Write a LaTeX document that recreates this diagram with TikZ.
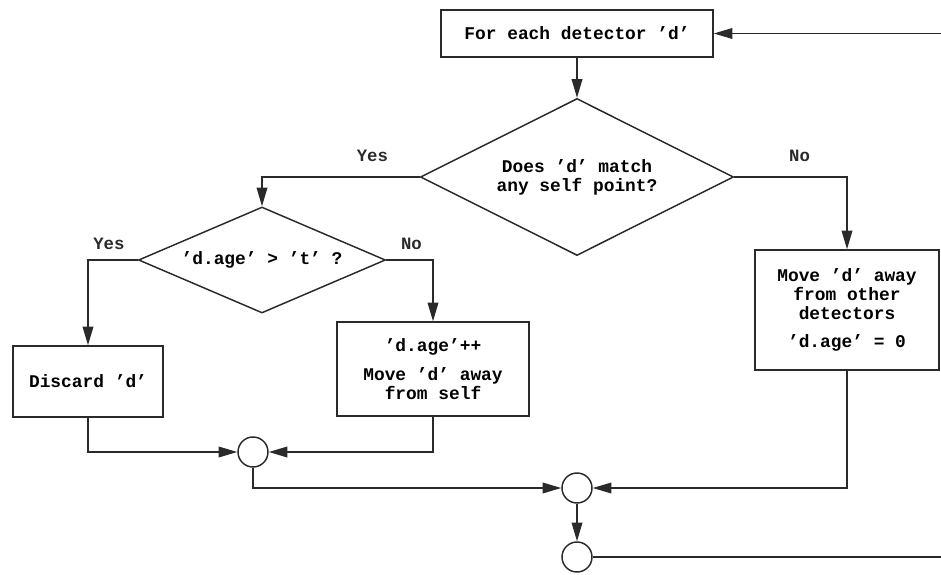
\documentclass[tikz,border=0pt]{standalone}
\usepackage{fontspec}
\setmainfont{Liberation Mono}[Ligatures=TeX]
\usepackage{tikz}
\usetikzlibrary{arrows.meta,positioning,calc,shapes.geometric}
\definecolor{fcline}{HTML}{2A2A2A}
\tikzset{
  box/.style={draw=fcline, line width=1.1pt, align=center, inner sep=2pt},
  test/.style={diamond, draw=fcline, line width=1.1pt, align=center, inner sep=0pt},
  merge/.style={circle, draw=fcline, line width=1.1pt, minimum size=22.5pt, inner sep=0pt},
  arr/.style={-{Triangle[length=14pt,width=8pt]}, line width=1.1pt, fcline},
  lbl/.style={font=\bfseries\fontsize{13}{14}\selectfont, inner sep=2pt},
}

\begin{document}
\begin{tikzpicture}[x=0.75pt, y=-0.75pt, font=\bfseries\fontsize{13.4}{14.3}\selectfont]
    \useasboundingbox (0,0) rectangle (941,574);
    \node[box, minimum width=204pt, minimum height=35.25pt] (start) at (577,33.5) {For each detector 'd'};
    \node[test, shape aspect=2, minimum width=234.75pt, minimum height=117.75pt] (q1) at (577,177)
      {Does 'd' match\\any self point?};
    \node[test, shape aspect=2.33, minimum width=185.25pt, minimum height=79.5pt] (q2) at (262,260)
      {'d.age' > 't' ?};
    \node[box, minimum width=112.5pt, minimum height=53.25pt] (discard) at (88,381.5) {Discard 'd'};
    \node[box, minimum width=144pt, minimum height=70.5pt] (age) at (433,369)
      {'d.age'++\\[7pt]Move 'd' away\\from self};
    \node[box, minimum width=138pt, minimum height=90pt] (reset) at (847,310)
      {Move 'd' away\\from other\\detectors\\[7pt]'d.age' = 0};
    \node[merge] (j1) at (253,452) {};
    \node[merge] (j2) at (577,488) {};
    \node[merge] (j3) at (577,557) {};
    \coordinate (loopin) at (941,33.5);
    \coordinate (loopout) at (941,557);
    % loop back to the start
    \draw[arr] (loopin) -- (start.east);
    \draw[arr] (start) -- (q1);
    \draw[arr] (q1.west) -| node[lbl, pos=0.15, above=9pt] {Yes} (q2.north);
    \draw[arr] (q1.east) -| node[lbl, pos=0.29, above=9pt] {No} (reset.north);
    \draw[arr] (q2.west) -| node[lbl, pos=0.29, above=5pt] {Yes} (discard.north);
    \draw[arr] (q2.east) -| node[lbl, pos=0.27, above=5pt] {No} (age.north);
    % merge the branches
    \draw[arr] (discard.south) |- (j1.west);
    \draw[arr] (age.south) |- (j1.east);
    \draw[arr] (j1.south) |- (j2.west);
    \draw[arr] (reset.south) |- (j2.east);
    \draw[arr] (j2) -- (j3);
    \draw[line width=1.1pt, fcline] (j3.east) -- (loopout);
\end{tikzpicture}
\end{document}
